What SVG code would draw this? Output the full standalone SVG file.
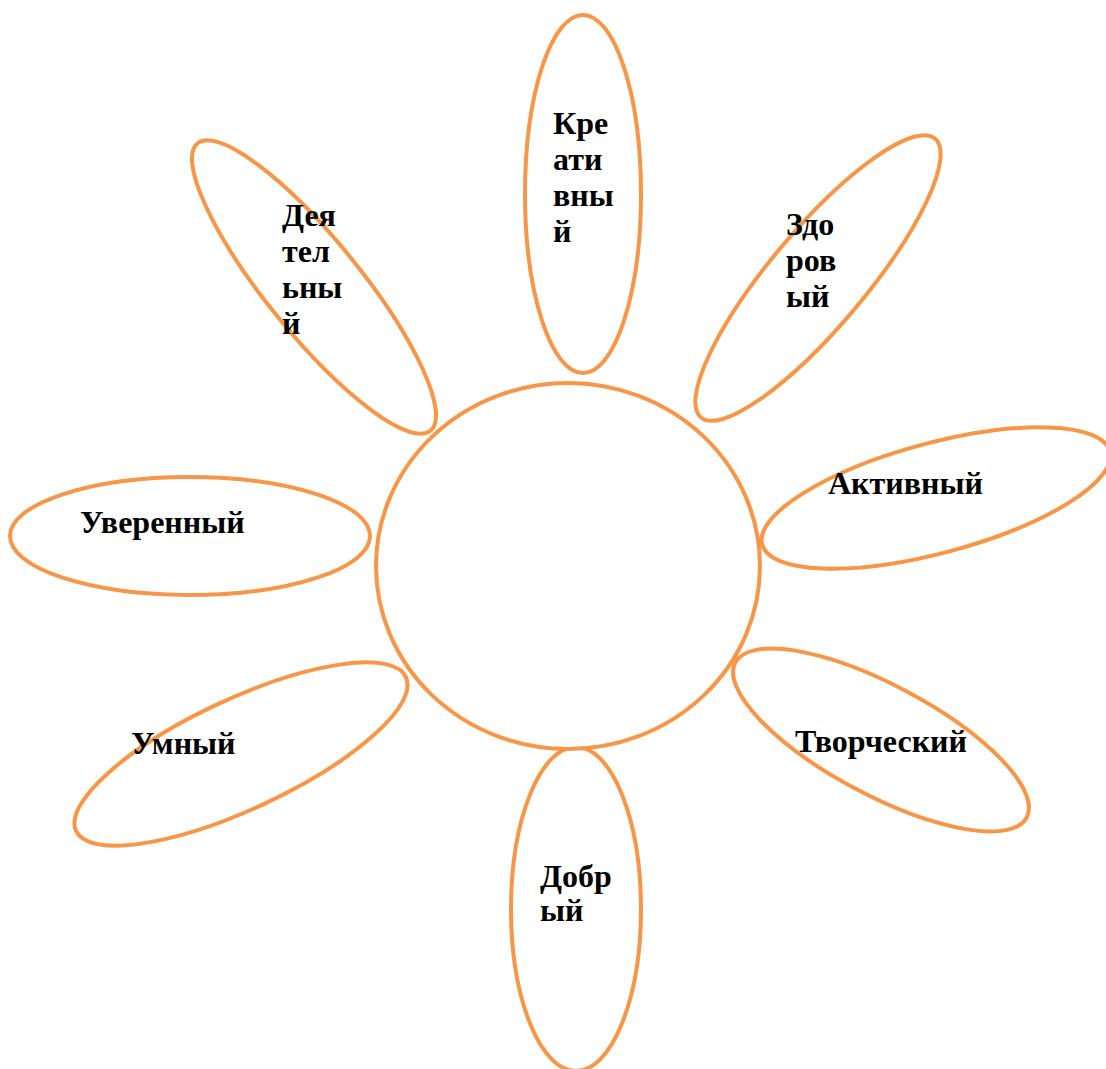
<svg xmlns="http://www.w3.org/2000/svg" width="1106" height="1069" viewBox="0 0 1106 1069">
<style>
.p{fill:#fff;stroke:#F79646;stroke-width:4}
.t{font-family:"Liberation Serif","Times New Roman",serif;font-weight:bold;font-size:32px;fill:#000}
</style>
<rect width="1106" height="1069" fill="#fff"/>
<g id="petal-kreativny"><ellipse class="p" cx="583" cy="194" rx="58" ry="179"/>
<text class="t" x="553" y="134">Кре</text><text class="t" x="553" y="170">ати</text><text class="t" x="553" y="206">вны</text><text class="t" x="553" y="242">й</text></g>
<g id="petal-deyatelny"><ellipse class="p" cx="314" cy="287" rx="185" ry="47" transform="rotate(51 314 287)"/>
<text class="t" x="282" y="226">Дея</text><text class="t" x="282" y="262">тел</text><text class="t" x="282" y="298">ьны</text><text class="t" x="282" y="334">й</text></g>
<g id="petal-zdorovy"><ellipse class="p" cx="818" cy="278" rx="182" ry="48" transform="rotate(-50 818 278)"/>
<text class="t" x="786" y="235">Здо</text><text class="t" x="786" y="271">ров</text><text class="t" x="786" y="307">ый</text></g>
<g id="petal-aktivny"><ellipse class="p" cx="936" cy="498" rx="180" ry="55" transform="rotate(-15 936 498)"/>
<text class="t" x="828" y="494">Активный</text></g>
<g id="petal-uverenny"><ellipse class="p" cx="190" cy="536" rx="180" ry="59"/>
<text class="t" x="80" y="533">Уверенный</text></g>
<g id="petal-umny"><ellipse class="p" cx="241" cy="754" rx="182" ry="55" transform="rotate(-25 241 754)"/>
<text class="t" x="131" y="754">Умный</text></g>
<g id="petal-tvorchesky"><ellipse class="p" cx="881" cy="740" rx="165" ry="55" transform="rotate(28 881 740)"/>
<text class="t" x="795" y="752">Творческий</text></g>
<g id="petal-dobry"><ellipse class="p" cx="576" cy="909" rx="65" ry="162"/>
<text class="t" x="540" y="887">Добр</text><text class="t" x="540" y="921">ый</text></g>
<g id="center"><ellipse class="p" cx="568" cy="566" rx="192" ry="183"/></g>
<g id="connectors"/>
</svg>
